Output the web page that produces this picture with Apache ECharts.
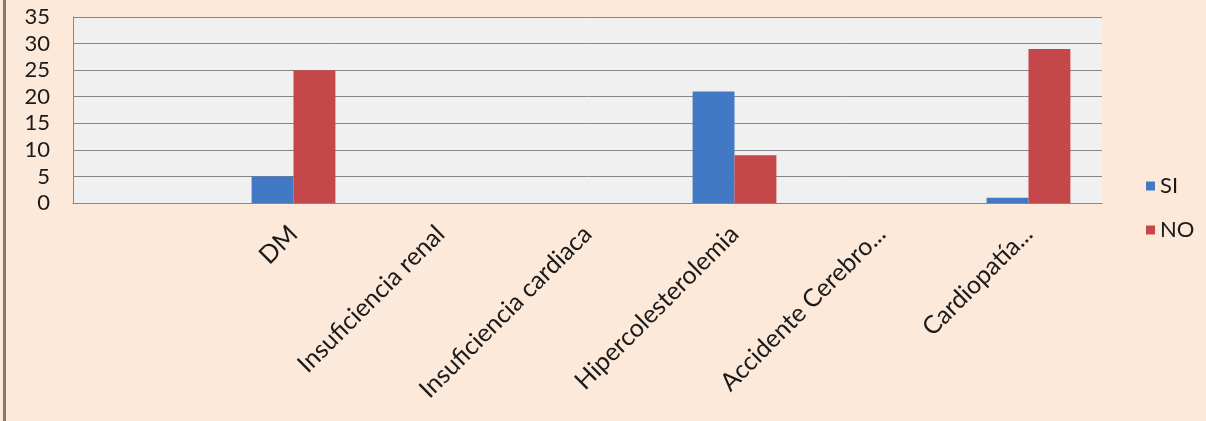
<!DOCTYPE html>
<html><head><meta charset="utf-8">
<script src="https://cdn.jsdelivr.net/npm/echarts@6/dist/echarts.min.js"></script>
<style>
html,body{margin:0;padding:0;background:#fde9da;}
#frame{position:absolute;left:0;top:0;width:1206px;height:421px;}
#edge{position:absolute;left:3px;top:0;width:3px;height:421px;background:#857670;}
#c{position:absolute;left:0;top:0;width:1206px;height:421px;}
</style></head>
<body>
<div id="frame"><div id="c"></div><div id="edge"></div></div>
<script>
const categories = ['', 'DM', 'Insuficiencia renal', 'Insuficiencia cardiaca', 'Hipercolesterolemia', 'Accidente Cerebro...', 'Cardiopatía...'];
const siValues = [null, 5, null, null, 21, null, 1];
const noValues = [null, 25, null, null, 9, null, 29];
const yTicks = [0, 5, 10, 15, 20, 25, 30, 35];

const chart = echarts.init(document.getElementById('c'));
const font = 'Lato, "Open Sans", sans-serif';
chart.setOption({
  backgroundColor: '#fde9da',
  animation: false,
  grid: {left: 73, right: 104, top: 17, bottom: 218, show: true, backgroundColor: '#f0f0f0', borderWidth: 0},
  legend: {
    orient: 'vertical', left: 1141, top: 170, itemGap: 22, itemWidth: 9, itemHeight: 9, icon: 'rect',
    textStyle: {fontFamily: font, fontSize: 22, color: '#1a1a1a'},
    data: ['SI', 'NO']
  },
  xAxis: {
    type: 'category', data: categories,
    axisLine: {show: true, lineStyle: {color: '#888888'}},
    axisTick: {show: false},
    axisLabel: {rotate: 45, interval: 0, margin: 27, fontFamily: font, fontSize: 25, color: '#1a1a1a'}
  },
  yAxis: {
    type: 'value', min: yTicks[0], max: yTicks[yTicks.length - 1], interval: 5,
    axisLine: {show: true, lineStyle: {color: '#888888'}},
    axisTick: {show: false},
    splitLine: {lineStyle: {color: '#868686', width: 1}},
    axisLabel: {margin: 23, fontFamily: font, fontSize: 22, color: '#1a1a1a'}
  },
  series: [
    {name: 'SI', type: 'bar', data: siValues, barGap: '0%', barCategoryGap: '43%', itemStyle: {color: '#4179c4'}},
    {name: 'NO', type: 'bar', data: noValues, itemStyle: {color: '#c4474a'}}
  ]
});
</script>
</body></html>
